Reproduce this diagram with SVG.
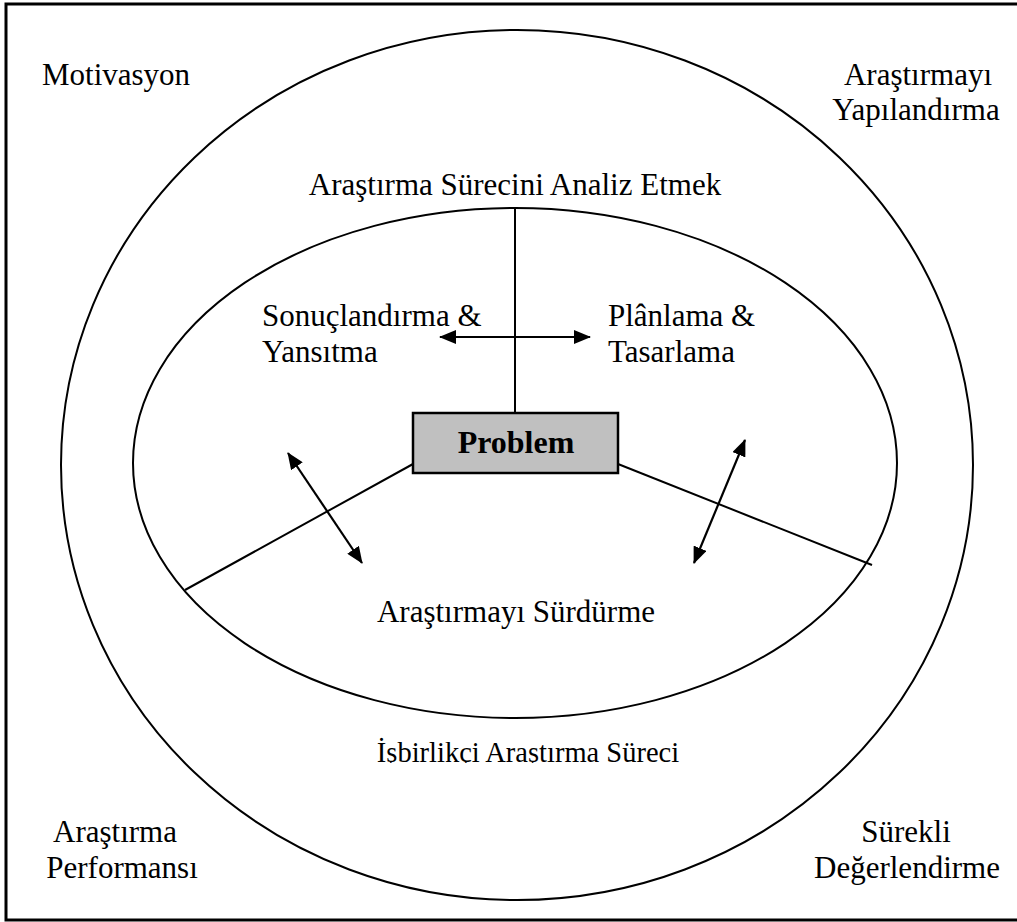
<svg xmlns="http://www.w3.org/2000/svg" width="1017" height="922" viewBox="0 0 1017 922">
<style>
.t{font-family:"Liberation Serif","Times New Roman",serif;font-size:31px;fill:#000}
.c{text-anchor:middle}
.ln{stroke:#000;stroke-width:2;fill:none}
.arr{stroke:#000;stroke-width:2.2;fill:none;marker-start:url(#ah);marker-end:url(#ah)}
</style>
<defs>
<marker id="ah" markerUnits="userSpaceOnUse" markerWidth="17" markerHeight="14" refX="16" refY="7" orient="auto-start-reverse">
<path d="M0,0 L17,7 L0,14 z" fill="#000"/>
</marker>
<clipPath id="cut"><rect x="0" y="0" width="1017" height="763"/></clipPath>
</defs>
<rect width="1017" height="922" fill="#fff"/>
<rect id="frame" x="6" y="4" width="1016" height="916" fill="none" stroke="#000" stroke-width="3"/>
<g id="outer-ring">
<ellipse cx="517" cy="465" rx="456" ry="435" fill="none" stroke="#000" stroke-width="2"/>
</g>
<g id="inner-ring">
<ellipse cx="515" cy="463" rx="382" ry="255" fill="none" stroke="#000" stroke-width="2"/>
</g>
<g id="connectors">
<line class="ln" x1="515" y1="208" x2="515" y2="413"/>
<line class="ln" x1="413" y1="464" x2="185" y2="590"/>
<line class="ln" x1="618" y1="464" x2="872" y2="565"/>
<line class="arr" x1="440" y1="337" x2="590" y2="337"/>
<line class="arr" x1="288" y1="453" x2="362" y2="563"/>
<line class="arr" x1="745" y1="440" x2="694" y2="563"/>
</g>
<g id="problem">
<rect x="413" y="413" width="205" height="60" fill="#c0c0c0" stroke="#000" stroke-width="2.5"/>
<text class="t c" x="516" y="453" style="font-weight:bold;font-size:32px">Problem</text>
</g>
<g id="motivasyon"><text class="t" x="42" y="85">Motivasyon</text></g>
<g id="arastirmayi-yapilandirma">
<text class="t c" x="918" y="85">Araştırmayı</text>
<text class="t c" x="916" y="120">Yapılandırma</text>
</g>
<g id="analiz"><text class="t c" x="515" y="195">Araştırma Sürecini Analiz Etmek</text></g>
<g id="sonuclandirma">
<text class="t" x="262" y="326">Sonuçlandırma &amp;</text>
<text class="t" x="262" y="362">Yansıtma</text>
</g>
<g id="planlama">
<text class="t" x="608" y="326">Plânlama &amp;</text>
<text class="t" x="608" y="362">Tasarlama</text>
</g>
<g id="surdurme"><text class="t c" x="516" y="622">Araştırmayı Sürdürme</text></g>
<g id="isbirlikci" clip-path="url(#cut)"><text class="t c" x="528" y="762" style="font-size:28.5px">İşbirlikçi Araştırma Süreci</text></g>
<g id="performans">
<text class="t c" x="115" y="842">Araştırma</text>
<text class="t c" x="122" y="878">Performansı</text>
</g>
<g id="degerlendirme">
<text class="t c" x="906" y="842">Sürekli</text>
<text class="t c" x="907" y="878">Değerlendirme</text>
</g>
</svg>
